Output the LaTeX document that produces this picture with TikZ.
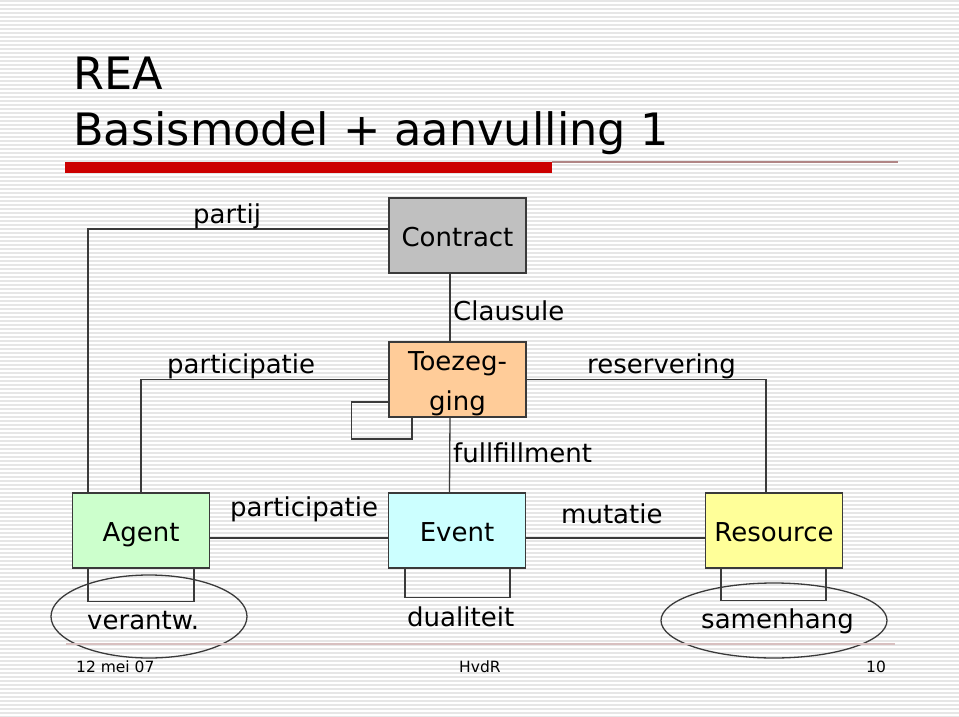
\documentclass[tikz,border=0pt]{standalone}
\usepackage{fontspec}
\setmainfont{DejaVu Sans}
\usetikzlibrary{shapes.geometric}
\definecolor{linec}{HTML}{3A3A3A}
\definecolor{stripe}{HTML}{E6E6E6}
\definecolor{redbar}{HTML}{CC0000}
\definecolor{thinred}{HTML}{B08585}
\definecolor{footline}{HTML}{D8C0C0}
\definecolor{cgray}{HTML}{C0C0C0}
\definecolor{corange}{HTML}{FFCC99}
\definecolor{ccyan}{HTML}{CCFFFF}
\definecolor{cgreen}{HTML}{CCFFCC}
\definecolor{cyellow}{HTML}{FFFF99}
\tikzset{
  entity/.style={draw=linec, line width=1.3pt, minimum width=137pt, minimum height=75pt, inner sep=0pt, font=\fontsize{26}{40}\selectfont, align=center, text height=21pt, text depth=0pt},
  conn/.style={draw=linec, line width=1.3pt},
  lbl/.style={inner sep=0pt, anchor=base west, font=\fontsize{26}{30}\selectfont},
  foot/.style={inner sep=0pt, anchor=base west, font=\fontsize{15.5}{18}\selectfont},
  titletext/.style={inner sep=0pt, anchor=base west, font=\fontsize{44.6}{50}\selectfont},
  oval/.style={ellipse, draw=linec, line width=1.3pt, inner sep=0pt}
}
\begin{document}
\begin{tikzpicture}[x=1pt, y=-1pt]
\useasboundingbox (0,0) rectangle (959,717);
\fill[white] (0,0) rectangle (959,717);
\foreach \yy in {1,5,...,717} {\draw[stripe, line width=1.2pt] (0,\yy) -- (959,\yy);}
% title
\node[titletext] (t1) at (73,90) {REA};
\node[titletext] (t2) at (73,145) {Basismodel + aanvulling 1};
\fill[redbar] (65,162) rectangle (552,173);
\draw[thinred, line width=1.4pt] (552,162) -- (898,162);
% entities
\node[entity, fill=cgray] (contract) at (457.5,235.5) {Contract};
\node[entity, fill=corange, text height=61pt, text depth=0pt] (toez) at (457.5,379.5) {Toezeg-\\ging};
\node[entity, fill=cgreen] (agent) at (141,530.5) {Agent};
\node[entity, fill=ccyan] (event) at (457,530.5) {Event};
\node[entity, fill=cyellow] (res) at (774,530.5) {Resource};
% connectors
\draw[conn] ([yshift=6.5pt]contract.west) -| ([xshift=-53pt]agent.north);
\draw[conn] (toez.west) -| (agent.north);
\draw[conn] ([xshift=-7.5pt]contract.south) -- ([xshift=-7.5pt]toez.north);
\draw[conn] ([xshift=-7.5pt]toez.south) -- ([xshift=-7.5pt]event.north);
\draw[conn] (toez.east) -| ([xshift=-8pt]res.north);
\draw[conn] ([yshift=-7.5pt]agent.east) -- ([yshift=-7.5pt]event.west);
\draw[conn] ([yshift=-7.5pt]event.east) -- ([yshift=-7.5pt]res.west);
% self loops
\draw[conn] ([yshift=-22.5pt]toez.west) -- ++(-37,0) -- ++(0,37) -| ([xshift=-45.5pt]toez.south);
\draw[conn] ([xshift=-53pt]agent.south) -- ++(0,33) -| ([xshift=53pt]agent.south);
\draw[conn] ([xshift=-52pt]event.south) -- ++(0,29) -| ([xshift=53pt]event.south);
\draw[conn] ([xshift=-53pt]res.south) -- ++(0,32) -| ([xshift=52pt]res.south);
% ellipses
\node[oval, minimum width=196pt, minimum height=83pt] (verell) at (149,616.5) {};
\node[oval, minimum width=226pt, minimum height=75pt] (samell) at (774,620.5) {};
% labels
\node[lbl] (lpartij) at (193,223) {partij};
\node[lbl] (lclaus) at (453,320) {Clausule};
\node[lbl] (lpart1) at (167,373) {participatie};
\node[lbl] (lres) at (587,373) {reservering};
\node[lbl] (lfull) at (453,462) {fullfillment};
\node[lbl] (lpart2) at (230,516) {participatie};
\node[lbl] (lmut) at (561,523) {mutatie};
\node[lbl] (lver) at (87,629) {verantw.};
\node[lbl] (ldual) at (407,626) {dualiteit};
\node[lbl] (lsam) at (701,628) {samenhang};
% footer
\draw[footline, line width=1.4pt] (66,644) -- (895,644);
\node[foot] (fdate) at (76,672) {12 mei 07};
\node[foot] (fauth) at (459,672) {HvdR};
\node[foot] (fpage) at (866,672) {10};
\end{tikzpicture}
\end{document}
